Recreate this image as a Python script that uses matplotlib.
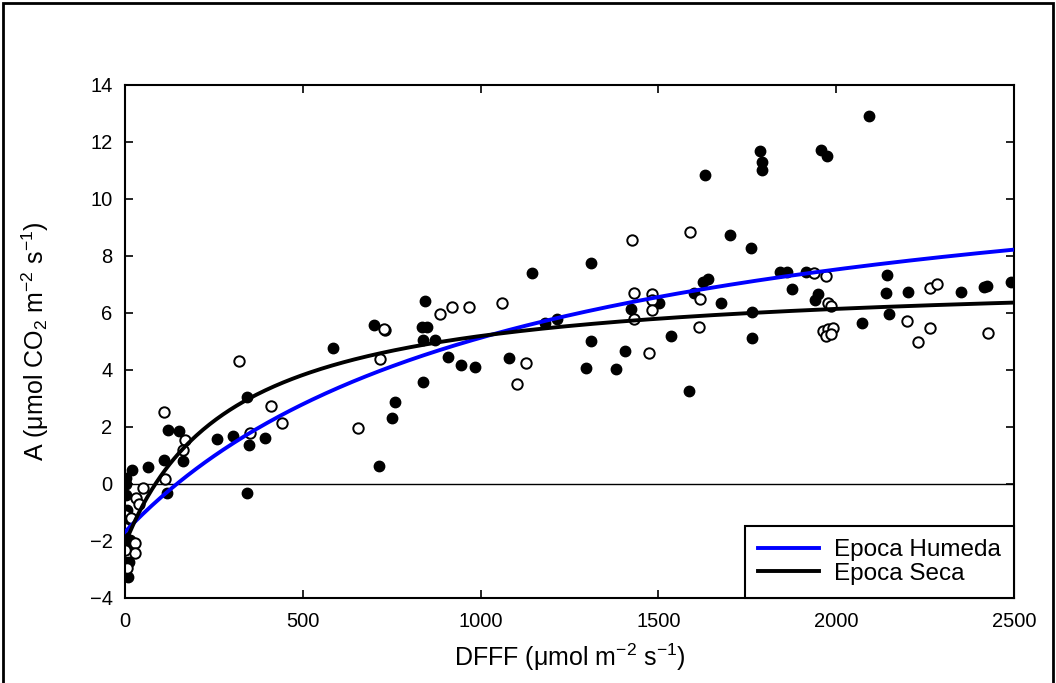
import numpy as np
import matplotlib
matplotlib.use('Agg')
import matplotlib.pyplot as plt
from matplotlib.patches import Rectangle

plt.rcParams['font.family'] = ['Liberation Sans', 'DejaVu Sans']
plt.rcParams['mathtext.fontset'] = 'custom'
plt.rcParams['mathtext.rm'] = 'Liberation Sans'
plt.rcParams['mathtext.default'] = 'regular'

# Epoca Seca (filled circles)
seca_x = [3, 3, 3, 20, 65, 121, 152, 110, 163, 118, 259, 304, 349, 394, 343, 343,
          5, 5, 0, 0, 12, 8, 15, 22, 3,
          585, 838, 759, 750, 714, 838, 872, 908, 700, 844, 835, 850,
          945, 984, 1080, 1181, 1215, 1310, 1296, 1381, 1406, 1423, 1502, 1535, 1586,
          1600, 1625, 1640, 1676, 1763, 1763, 1876,
          2092, 1957, 1974, 1842, 1861, 1915, 1949, 1941, 2073, 2143, 2140, 2148, 2202,
          2351, 2416, 2424, 2492,
          1785, 1790, 1790, 1630, 1700, 1760, 1310, 1145]
seca_y = [0.2, 0.0, -0.39, 0.49, 0.6, 1.89, 1.86, 0.84, 0.81, -0.32, 1.58, 1.68, 1.37, 1.61, 3.05, -0.32,
          -0.91, -1.1, -1.86, -2.74, -2.74, -3.26, -1.96, -2.07, -1.25,
          4.77, 3.58, 2.88, 2.32, 0.63, 5.05, 5.05, 4.46, 5.58, 6.42, 5.5, 5.5,
          4.18, 4.1, 4.42, 5.65, 5.79, 5.02, 4.07, 4.03, 4.67, 6.14, 6.35, 5.19, 3.26,
          6.7, 7.09, 7.18, 6.35, 6.04, 5.12, 6.84,
          12.9, 11.72, 11.51, 7.44, 7.44, 7.44, 6.67, 6.46, 5.65, 7.33, 6.7, 5.96, 6.74,
          6.74, 6.91, 6.95, 7.09,
          11.7, 11.3, 11.02, 10.85, 8.74, 8.28, 7.75, 7.4]

# Epoca Humeda (open circles)
humeda_x = [51, 31, 0, 0, 28, 28, 0, 5, 110, 169, 163, 112, 351, 410, 441, 18, 38,
            321, 717, 731, 655, 728, 886, 919, 967, 1060, 1127, 1103,
            1431, 1431, 1482, 1482, 1482, 1474, 1617, 1614, 1590, 1425,
            1938, 1971, 1977, 1985, 1963, 1977, 1991, 1970, 1985,
            2199, 2230, 2264, 2283, 2264, 2427]
humeda_y = [-0.14, -0.49, -1.09, -1.54, -2.07, -2.42, -2.32, -2.95, 2.53, 1.54, 1.19, 0.16, 1.79, 2.74, 2.14, -1.2, -0.7,
            4.32, 4.39, 5.4, 1.97, 5.44, 5.95, 6.2, 6.2, 6.35, 4.25, 3.51,
            6.7, 5.79, 6.67, 6.46, 6.1, 4.6, 6.49, 5.51, 8.84, 8.56,
            7.4, 7.3, 6.35, 6.25, 5.37, 5.44, 5.47, 5.19, 5.26,
            5.72, 4.98, 6.88, 7.02, 5.47, 5.3]

# fitted hyperbolas y = a*x/(b+x) + c
humeda_fit = (14.2, 1085.0, -1.68)
seca_fit = (9.48, 300.0, -2.1)

fig = plt.figure(figsize=(10.56, 6.83), dpi=100)
ax = fig.add_axes([0.1184, 0.1245, 0.8419, 0.7511])

ax.plot(seca_x, seca_y, 'o', color='black', markersize=7.5, zorder=2)
ax.plot(humeda_x, humeda_y, 'o', mfc='white', mec='black', mew=1.4, markersize=7.5, zorder=2)

xf = np.linspace(0, 2500, 400)
a, b, c = humeda_fit
ax.plot(xf, a * xf / (b + xf) + c, color='#0000ff', lw=2.8, label='Epoca Humeda', zorder=3)
a, b, c = seca_fit
ax.plot(xf, a * xf / (b + xf) + c, color='black', lw=2.8, label='Epoca Seca', zorder=3)

ax.axhline(0, color='black', lw=1, zorder=1)

ax.set_xlim(0, 2500)
ax.set_ylim(-4, 14)
ax.set_xticks([0, 500, 1000, 1500, 2000, 2500])
ax.set_yticks(range(-4, 15, 2))
ax.tick_params(direction='in', length=6, width=1.2, labelsize=14.5,
               top=True, right=True)
ax.tick_params(axis='x', pad=10)
ax.tick_params(axis='y', pad=9)
for s in ax.spines.values():
    s.set_linewidth(1.5)

ax.set_xlabel('DFFF (μmol m$^{-2}$ s$^{-1}$)', fontsize=18, labelpad=8)
ax.set_ylabel('A (μmol CO$_2$ m$^{-2}$ s$^{-1}$)', fontsize=18, labelpad=28)

leg = ax.legend(loc='lower right', bbox_to_anchor=(1, 0), borderaxespad=0,
                fancybox=False, edgecolor='black', framealpha=1, fontsize=17.5,
                handlelength=2.5, handletextpad=0.6, labelspacing=0.05, borderpad=0.55)
leg.get_frame().set_linewidth(1.5)

fig.patches.append(Rectangle((0.0028, -0.02), 0.9944, 1.0156, transform=fig.transFigure,
                             fill=False, edgecolor='black', lw=2))

fig.savefig('out.png', dpi=100)
